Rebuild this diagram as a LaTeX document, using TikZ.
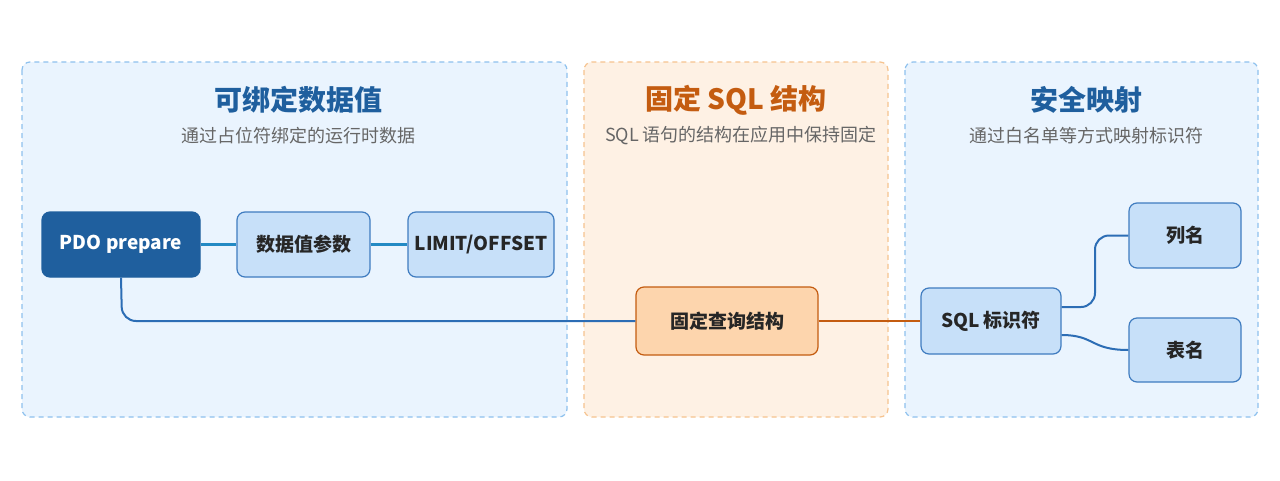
\documentclass[tikz,border=0pt]{standalone}
\usepackage{fontspec}
\setmainfont{Noto Sans CJK SC}
\begin{document}
\begin{tikzpicture}[x=1pt,y=-1pt,
 panel/.style={draw,line width=1.2pt,rounded corners=8pt,dash pattern=on 5pt off 4pt},
 bn/.style={draw=blue!55!black!80,fill=blue!20!white,line width=1.2pt,rounded corners=8pt,font=\fontsize{19}{22}\selectfont\bfseries,text=black!85},
 ttl/.style={font=\fontsize{28}{32}\selectfont\bfseries},
 sub/.style={font=\fontsize{18}{21}\selectfont,text=black!60},
 bl/.style={line width=2pt,rounded corners=14pt}]
\definecolor{pbl}{HTML}{EAF4FE}\definecolor{pbd}{HTML}{8EC1EE}
\definecolor{por}{HTML}{FEF1E4}\definecolor{pod}{HTML}{F6C38F}
\definecolor{dkb}{HTML}{1F5F9E}\definecolor{lnb}{HTML}{2C6DB5}
\definecolor{orr}{HTML}{C45C10}\definecolor{ofill}{HTML}{FDD5AD}
\definecolor{nfill}{HTML}{C7E0F9}\definecolor{nbd}{HTML}{3F7CC0}
\useasboundingbox (0,0) rectangle (1280,480);
\fill[white] (0,0) rectangle (1280,480);
\draw[panel,draw=pbd,fill=pbl] (22,62) rectangle (567,417);
\draw[panel,draw=pod,fill=por] (584,62) rectangle (888,417);
\draw[panel,draw=pbd,fill=pbl] (905,62) rectangle (1258,417);
\node[ttl,text=dkb] (t1) at (298,100) {可绑定数据值};
\node[sub] (s1) at (298,136) {通过占位符绑定的运行时数据};
\node[ttl,text=orr] (t2) at (736,100) {固定 SQL 结构};
\node[sub] (s2) at (741,136) {SQL 语句的结构在应用中保持固定};
\node[ttl,text=dkb] (t3) at (1086,100) {安全映射};
\node[sub] (s3) at (1086,136) {通过白名单等方式映射标识符};
\tikzset{bn/.append style={draw=nbd,fill=nfill}}
\node[bn,fill=dkb,draw=dkb,text=white,minimum width=158pt,minimum height=65pt] (pdo) at (121,244.5) {PDO prepare};
\node[bn,minimum width=133pt,minimum height=65pt] (val) at (303.5,244.5) {数据值参数};
\node[bn,minimum width=146pt,minimum height=65pt] (lim) at (481,244.5) {LIMIT/OFFSET};
\node[bn,draw=orr,fill=ofill,minimum width=182pt,minimum height=68pt] (fix) at (727,321) {固定查询结构};
\node[bn,minimum width=140pt,minimum height=66pt] (sql) at (991,321) {SQL 标识符};
\node[bn,minimum width=112pt,minimum height=65pt] (col) at (1185,235.5) {列名};
\node[bn,minimum width=112pt,minimum height=64pt] (tab) at (1185,350) {表名};
\draw[draw=lnb!80!cyan,line width=3pt] (pdo) -- (val);
\draw[draw=lnb!80!cyan,line width=3pt] (val) -- (lim);
\draw[bl,draw=lnb] (pdo.south) -- (122,321) -- (fix.west);
\draw[draw=orr,line width=2pt] (fix.east) -- (sql.west);
\draw[bl,draw=lnb] ([yshift=14pt]sql.east) -- (1095,307) -- (1095,235.5) -- (col.west);
\draw[draw=lnb,line width=2pt] ([yshift=-14pt]sql.east) .. controls (1095,335) and (1090,350) .. (tab.west);
\end{tikzpicture}
\end{document}
